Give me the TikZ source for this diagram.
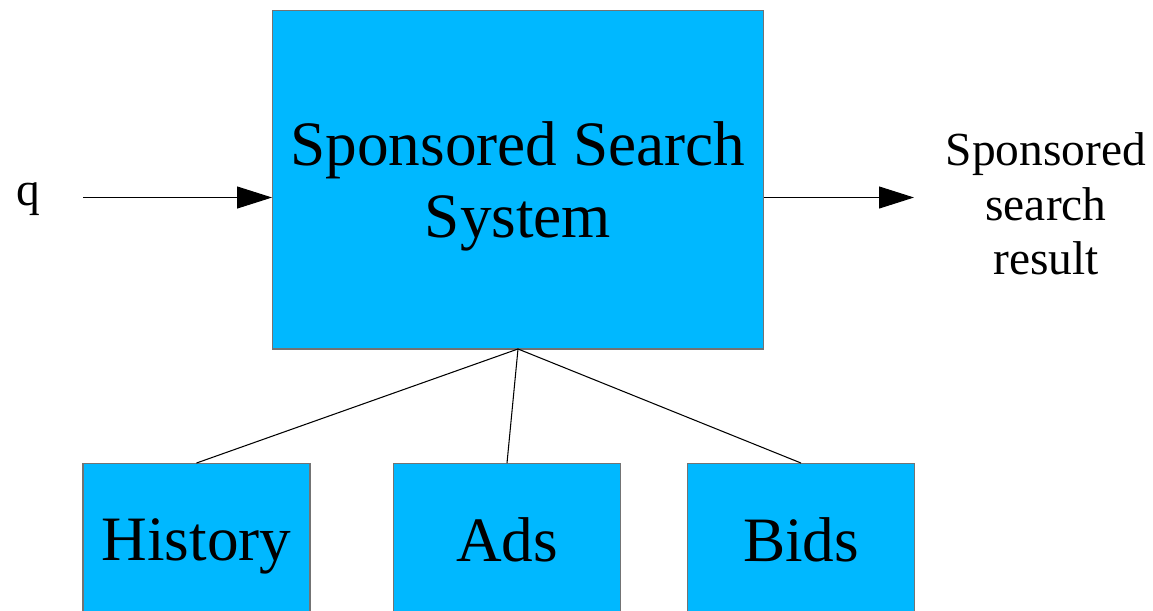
\documentclass[tikz,border=0pt]{standalone}
\usepackage{fontspec}
\setmainfont{Liberation Serif}
\usetikzlibrary{arrows.meta}
\definecolor{boxblue}{HTML}{00B8FF}

\begin{document}
\begin{tikzpicture}[
  x=0.02cm,y=-0.02cm,
  sysbox/.style={draw=black!55,line width=0.6pt,fill=boxblue,inner sep=0pt,outer sep=0pt,align=center,text depth=0pt},
  big/.style={font=\fontsize{36}{41}\selectfont},
  mid/.style={font=\fontsize{27}{31}\selectfont},
  lnk/.style={draw=black,line width=0.6pt},
  arr/.style={lnk,-{Triangle[length=0.7cm,width=0.44cm]}},
]
\useasboundingbox (0,0) rectangle (1153,610);
\clip (0,0) rectangle (1153,610);

% main system and the three data stores
\node[sysbox,big,minimum width=9.84cm,minimum height=6.78cm] (sss) at (518,179.5) {Sponsored Search\\System};
\node[sysbox,big,minimum width=4.54cm,minimum height=3.08cm] (hist) at (196.5,540) {History};
\node[sysbox,big,minimum width=4.54cm,minimum height=3.08cm] (ads) at (507,540) {Ads};
\node[sysbox,big,minimum width=4.54cm,minimum height=3.08cm] (bids) at (801,540) {Bids};

% input and output
\node[mid] (q) at (28,199) {q};
\node[mid,align=center] (res) at (1046,204) {Sponsored\\search\\result};
\coordinate (qin) at (83,197.5);
\coordinate (resin) at (914,197.5);

\draw[arr] (qin) -- (sss.west |- qin);
\draw[arr] (sss.east |- resin) -- (resin);
\draw[lnk] (sss.south) -- (hist.north);
\draw[lnk] (sss.south) -- (ads.north);
\draw[lnk] (sss.south) -- (bids.north);
\end{tikzpicture}
\end{document}
